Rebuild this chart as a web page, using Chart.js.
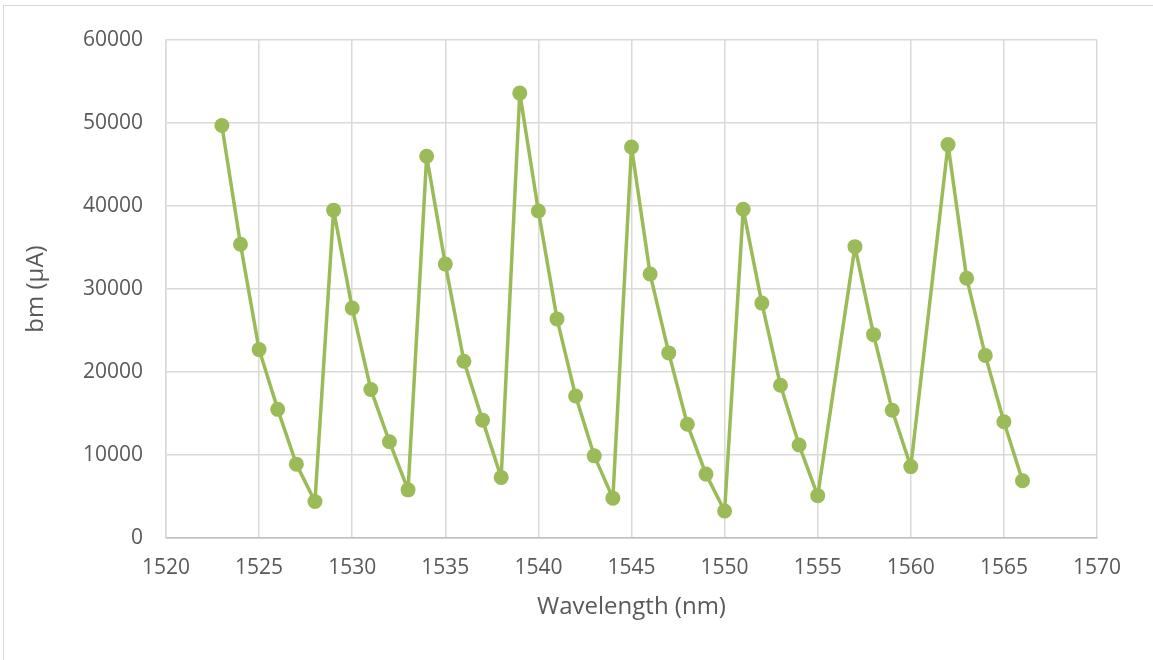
<!DOCTYPE html>
<html>
<head>
<meta charset="utf-8">
<script src="https://cdn.jsdelivr.net/npm/chart.js@4.4.1/dist/chart.umd.min.js"></script>
<style>
  html, body { margin: 0; padding: 0; background: #ffffff; overflow: hidden; }
  #frame {
    position: absolute; left: 3px; top: 5px; width: 1200px; height: 700px;
    border: 1px solid #d9d9d9; box-sizing: border-box;
  }
  #wrap { position: absolute; left: 0; top: 0; width: 1153px; height: 660px; }
</style>
</head>
<body>
<div id="frame"></div>
<div id="wrap"><canvas id="bmChart" width="1153" height="660"></canvas></div>
<script>
// wavelength sweep (nm) and measured bm current (µA)
const wavelengthNm = [
  1523, 1524, 1525, 1526, 1527, 1528, 1529, 1530, 1531, 1532, 1533,
  1534, 1535, 1536, 1537, 1538, 1539, 1540, 1541, 1542, 1543, 1544,
  1545, 1546, 1547, 1548, 1549, 1550, 1551, 1552, 1553, 1554, 1555,
  1557, 1558, 1559, 1560, 1562, 1563, 1564, 1565, 1566
];
const bmMicroAmp = [
  49700, 35400, 22700, 15500, 8900, 4400, 39500, 27700, 17900, 11600, 5800,
  46000, 33000, 21300, 14200, 7300, 53600, 39400, 26400, 17100, 9900, 4800,
  47100, 31800, 22300, 13700, 7700, 3250, 39600, 28300, 18400, 11200, 5100,
  35100, 24500, 15400, 8600, 47400, 31300, 22000, 14000, 6900
];
const xTicks = [1520, 1525, 1530, 1535, 1540, 1545, 1550, 1555, 1560, 1565, 1570];
const yTicks = [0, 10000, 20000, 30000, 40000, 50000, 60000];

const points = wavelengthNm.map((w, i) => ({ x: w, y: bmMicroAmp[i] }));

const green = "#9bbb59";
const textGrey = "#595959";
const gridGrey = "#d9d9d9";
const tickFont = { family: "'Open Sans', sans-serif", size: 21 };
const titleFont = { family: "'Open Sans', sans-serif", size: 24 };

const ctx = document.getElementById("bmChart").getContext("2d");
new Chart(ctx, {
  type: "scatter",
  data: {
    datasets: [{
      data: points,
      showLine: true,
      borderColor: green,
      backgroundColor: green,
      borderWidth: 3.5,
      borderJoinStyle: "round",
      pointRadius: 7.5,
      pointHoverRadius: 7.5,
      pointBorderWidth: 0,
      tension: 0
    }]
  },
  options: {
    responsive: false,
    animation: false,
    layout: { padding: { left: 0, top: 40, right: 56, bottom: 0 } },
    plugins: { legend: { display: false }, tooltip: { enabled: false } },
    scales: {
      x: {
        type: "linear",
        min: 1520,
        max: 1570,
        afterBuildTicks: (scale) => { scale.ticks = xTicks.map(v => ({ value: v })); },
        afterFit: (scale) => { scale.height = 122; },
        ticks: { color: textGrey, font: tickFont, padding: 17, maxRotation: 0, callback: (v) => String(v) },
        grid: { color: gridGrey, lineWidth: 1.5, drawTicks: false },
        border: { color: "#bfbfbf", width: 1.5 },
        title: {
          display: true,
          text: "Wavelength (nm)",
          color: textGrey,
          font: titleFont,
          padding: { top: 0, bottom: 38 }
        }
      },
      y: {
        min: 0,
        max: 60000,
        afterBuildTicks: (scale) => { scale.ticks = yTicks.map(v => ({ value: v })); },
        afterFit: (scale) => { scale.width = 166; },
        ticks: { color: textGrey, font: tickFont, padding: 23, callback: (v) => String(v) },
        grid: { color: gridGrey, lineWidth: 1.5, drawTicks: false },
        border: { color: gridGrey, width: 1.5 },
        title: {
          display: true,
          text: "bm (µA)",
          color: textGrey,
          font: titleFont,
          padding: { top: 22, bottom: 0 }
        }
      }
    }
  }
});
</script>
</body>
</html>
